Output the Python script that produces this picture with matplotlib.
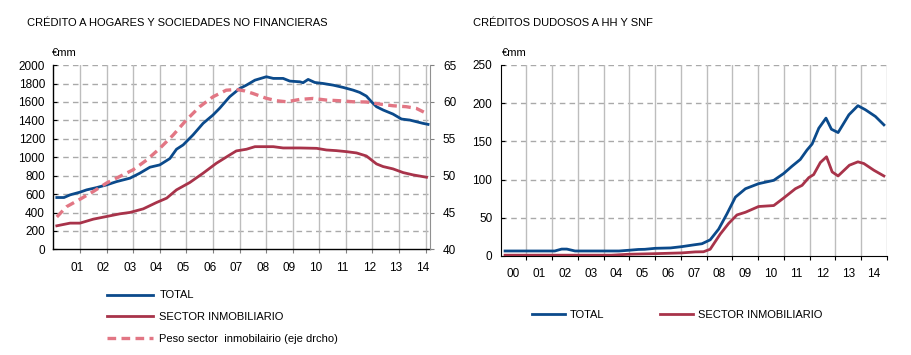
import matplotlib
matplotlib.use("Agg")
import matplotlib.pyplot as plt

plt.rcParams['font.family'] = ['Liberation Sans', 'DejaVu Sans']

# colores
BLUE = '#0b4a8b'
RED = '#a8334a'
PINK = '#e27684'

# --- grafico izquierdo: credito a hogares y SNF (miles de millones) ---
total_t = [2000.13, 2000.4, 2000.63, 2001.0, 2001.25, 2001.63, 2002.0, 2002.38, 2002.88,
           2003.25, 2003.63, 2004.0, 2004.38, 2004.63, 2004.88, 2005.25, 2005.63, 2006.0,
           2006.25, 2006.63, 2007.0, 2007.26, 2007.58, 2008.01, 2008.27, 2008.64, 2008.89,
           2009.27, 2009.39, 2009.58, 2009.83, 2010.14, 2010.52, 2010.9, 2011.27, 2011.52,
           2011.77, 2011.96, 2012.15, 2012.4, 2012.77, 2013.09, 2013.4, 2013.65, 2013.9, 2014.09]
total_v = [563, 563, 592, 621, 646, 671, 700, 736, 773,
           827, 892, 917, 986, 1087, 1134, 1242, 1368, 1458,
           1531, 1657, 1745, 1783, 1837, 1874, 1856, 1856, 1827,
           1819, 1809, 1845, 1812, 1801, 1783, 1758, 1729, 1704,
           1664, 1603, 1549, 1513, 1469, 1415, 1404, 1386, 1368, 1357]

inmob_t = [2000.13, 2000.63, 2001.0, 2001.5, 2002.0, 2002.5, 2002.88, 2003.38, 2003.88,
           2004.26, 2004.63, 2005.13, 2005.63, 2006.13, 2006.63, 2006.88, 2007.26, 2007.58,
           2008.01, 2008.27, 2008.64, 2009.27, 2009.9, 2010.27, 2010.64, 2011.02, 2011.4,
           2011.77, 2011.96, 2012.15, 2012.4, 2012.77, 2013.15, 2013.52, 2014.03]
inmob_v = [256, 285, 285, 328, 357, 386, 401, 440, 509,
           556, 646, 726, 827, 935, 1025, 1069, 1087, 1115,
           1115, 1115, 1101, 1101, 1097, 1079, 1072, 1061, 1047,
           1014, 971, 928, 899, 874, 834, 809, 783]

peso_t = [2000.13, 2000.5, 2001.0, 2001.5, 2002.0, 2002.5, 2003.0, 2003.5, 2004.0,
          2004.5, 2005.0, 2005.5, 2006.0, 2006.5, 2006.88, 2007.2, 2007.51, 2008.01,
          2008.39, 2008.77, 2009.27, 2009.77, 2010.27, 2010.77, 2011.27, 2011.77, 2012.27,
          2012.77, 2013.27, 2013.65, 2014.03]
peso_v = [44.4, 45.8, 46.8, 47.85, 49.0, 49.9, 50.8, 52.1, 53.7,
          55.5, 57.55, 59.35, 60.7, 61.6, 61.7, 61.5, 61.15, 60.5,
          60.17, 60.03, 60.35, 60.48, 60.26, 60.17, 60.03, 60.0, 59.72,
          59.49, 59.36, 59.13, 58.45]

years_left = list(range(2001, 2015))
labels_left = ['01', '02', '03', '04', '05', '06', '07', '08', '09', '10', '11', '12', '13', '14']

# --- grafico derecho: creditos dudosos ---
dud_total_t = [2000.17, 2002.1, 2002.37, 2002.57, 2002.89, 2004.6, 2005.0, 2005.35, 2005.6,
               2006.0, 2006.6, 2007.04, 2007.5, 2007.82, 2008.14, 2008.47, 2008.79, 2009.12,
               2009.51, 2010.02, 2010.61, 2010.99, 2011.32, 2011.64, 2011.9, 2012.1, 2012.36,
               2012.64, 2012.85, 2013.11, 2013.53, 2013.88, 2014.17, 2014.56, 2014.89]
dud_total_v = [6.5, 6.5, 9.0, 9.0, 6.5, 6.5, 7.5, 8.5, 8.7,
               10, 10.5, 12.2, 14.5, 16, 21.1, 35.2, 55.0, 77.0,
               88.0, 94.6, 99.0, 107.8, 117.5, 126.3, 138.6, 146.5, 167.2,
               180.4, 165.9, 161.5, 184.8, 196.7, 191.4, 182.6, 171.6]

dud_inmob_t = [2000.17, 2004.3, 2004.97, 2006.0, 2007.04, 2007.56, 2007.88, 2008.14, 2008.53,
               2008.86, 2009.18, 2009.51, 2010.02, 2010.61, 2010.99, 2011.45, 2011.71, 2011.97,
               2012.16, 2012.42, 2012.66, 2012.88, 2013.11, 2013.55, 2013.88, 2014.11, 2014.5, 2014.89]
dud_inmob_v = [1, 1, 2.2, 3, 4, 5.3, 5.5, 8.8, 28.6,
               42.7, 53.7, 57.2, 64.7, 66.0, 75.7, 88.0, 92.4, 102.5,
               106.5, 122.3, 129.8, 110.0, 104.7, 118.8, 123.2, 121.0, 112.2, 104.7]

years_right = list(range(2000, 2015))
labels_right = ['00', '01', '02', '03', '04', '05', '06', '07', '08', '09', '10', '11', '12', '13', '14']

FS = 8.5
LW = 2.0
GRID_H = '#a9a9a9'
GRID_V = '#bdbdbd'

fig = plt.figure(figsize=(9.12, 3.55), dpi=100)

# ---------------- izquierdo ----------------
ax1 = fig.add_axes([0.0585, 0.2975, 0.4135, 0.519])
ax1.set_xlim(2000, 2014.18)
ax1.set_ylim(0, 2000)
ax1.set_yticks(range(0, 2001, 200))
ax1.set_xticks(years_left)
ax1.set_xticklabels([])
ax1.set_xticks([y - 0.12 for y in years_left], minor=True)
ax1.set_xticklabels(labels_left, minor=True, fontsize=FS)
ax1.tick_params(axis='x', which='minor', length=0, pad=9)
ax1.tick_params(axis='x', which='major', direction='out', length=3, color='#808080')
ax1.tick_params(axis='y', direction='in', length=3, pad=6, labelsize=FS)
for yv in range(200, 2001, 200):
    ax1.axhline(yv, color=GRID_H, lw=1.0, ls=(0, (4, 3)), zorder=0)
for xv in years_left:
    ax1.axvline(xv, color=GRID_V, lw=1.0, zorder=0)
ax1.spines['top'].set_visible(False)
ax1.spines['right'].set_visible(False)
ax1.spines['left'].set_linewidth(1.0)
ax1.spines['bottom'].set_linewidth(1.0)

l1, = ax1.plot(total_t, total_v, color=BLUE, lw=LW, label='TOTAL', zorder=3)
l2, = ax1.plot(inmob_t, inmob_v, color=RED, lw=LW, label='SECTOR INMOBILIARIO', zorder=3)

ax1b = ax1.twinx()
ax1b.set_ylim(40, 65)
ax1b.set_yticks(range(40, 66, 5))
ax1b.tick_params(axis='y', direction='out', length=3, pad=6, labelsize=FS, color='#808080')
ax1b.spines['right'].set_color('#909090')
ax1b.spines['top'].set_visible(False)
ax1b.spines['left'].set_visible(False)
ax1b.spines['bottom'].set_visible(False)
l3, = ax1b.plot(peso_t, peso_v, color=PINK, lw=2.4, ls=(0, (2.6, 1.6)),
                label='Peso sector  inmobilairio (eje drcho)', zorder=3)

fig.text(0.0296, 0.934, 'CRÉDITO A HOGARES Y SOCIEDADES NO FINANCIERAS', fontsize=8,
         va='center', ha='left')
fig.text(0.0567, 0.850, '€mm', fontsize=8, va='center', ha='left')

fig.legend(handles=[l1, l2, l3], loc='upper left', bbox_to_anchor=(0.117, 0.182),
           frameon=False, fontsize=8, handlelength=4.2, handletextpad=0.55,
           labelspacing=1.05, borderpad=0, borderaxespad=0)

# ---------------- derecho ----------------
ax2 = fig.add_axes([0.549, 0.279, 0.4233, 0.538])
ax2.set_xlim(2000, 2015)
ax2.set_ylim(0, 250)
ax2.set_yticks(range(0, 251, 50))
ax2.set_xticks(years_right[1:] + [2015])
ax2.set_xticklabels([])
ax2.set_xticks([y + 0.5 for y in years_right], minor=True)
ax2.set_xticklabels(labels_right, minor=True, fontsize=FS)
ax2.tick_params(axis='x', which='minor', length=0, pad=9)
ax2.tick_params(axis='x', which='major', direction='out', length=3)
ax2.tick_params(axis='y', direction='in', length=3, pad=6, labelsize=FS)
for yv in range(50, 251, 50):
    ax2.axhline(yv, color=GRID_H, lw=1.0, ls=(0, (4, 3)), zorder=0)
for xv in years_right[1:] + [2015]:
    ax2.axvline(xv, color=GRID_V, lw=1.0, zorder=0)
ax2.spines['top'].set_visible(False)
ax2.spines['right'].set_visible(False)

r1, = ax2.plot(dud_total_t, dud_total_v, color=BLUE, lw=LW, label='TOTAL', zorder=3)
r2, = ax2.plot(dud_inmob_t, dud_inmob_v, color=RED, lw=LW, label='SECTOR INMOBILIARIO', zorder=3)

fig.text(0.5186, 0.934, 'CRÉDITOS DUDOSOS A HH Y SNF', fontsize=8, va='center', ha='left')
fig.text(0.5505, 0.850, '€mm', fontsize=8, va='center', ha='left')

fig.legend(handles=[r1, r2], loc='upper left', bbox_to_anchor=(0.583, 0.127),
           frameon=False, fontsize=8, ncol=2, handlelength=3.0, handletextpad=0.45,
           columnspacing=5.0, borderpad=0, borderaxespad=0)

fig.savefig('out.png', dpi=100)
